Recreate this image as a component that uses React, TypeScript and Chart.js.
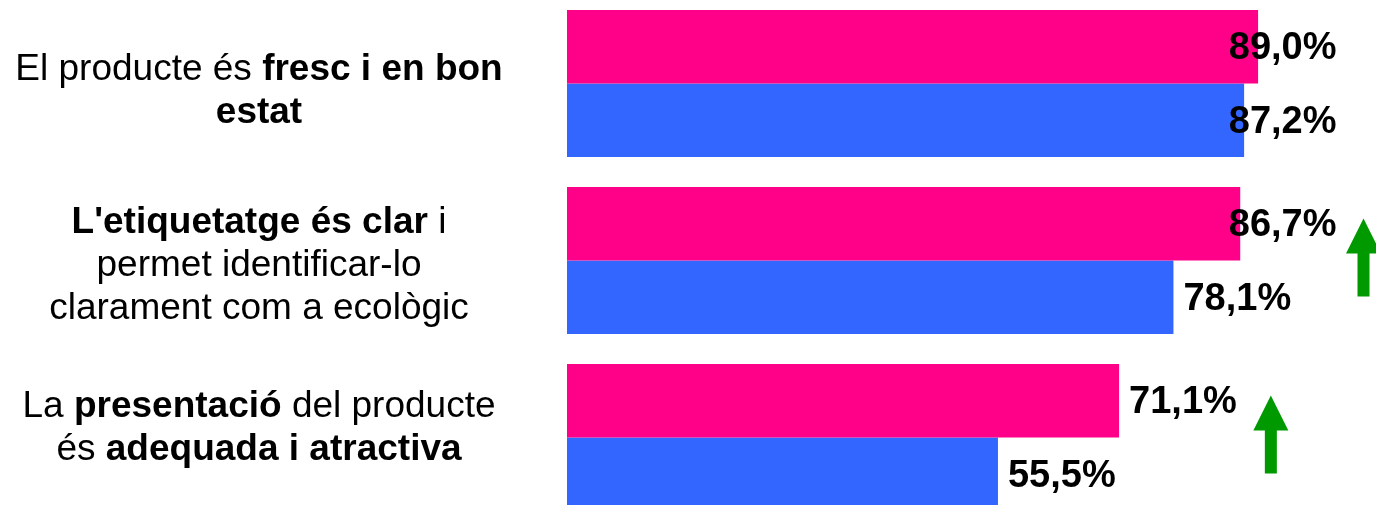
import React, { useEffect, useRef } from "react";
import { Chart, registerables } from "chart.js";

Chart.register(...registerables);

// ---- Data ----
const categories = ["fresc", "etiquetatge", "presentacio"];
// Rich label text: each line is a list of [text, bold]
const categoryLabelLines: [string, boolean][][][] = [
  [
    [["El producte és ", false], ["fresc i en bon", true]],
    [["estat", true]],
  ],
  [
    [["L'etiquetatge és clar", true], [" i", false]],
    [["permet identificar-lo", false]],
    [["clarament com a ecològic", false]],
  ],
  [
    [["La ", false], ["presentació", true], [" del producte", false]],
    [["és ", false], ["adequada i atractiva", true]],
  ],
];
const seriesCurrent = [89.0, 86.7, 71.1];
const seriesPrevious = [87.2, 78.1, 55.5];
const significantIncrease = [false, true, true];

const PINK = "#FF0088";
const BLUE = "#3366FF";
const GREEN = "#009900";
const FONT = "'Liberation Sans', Arial, sans-serif";

const fmt = (v: number) => v.toFixed(1).replace(".", ",") + "%";

const overlayPlugin = {
  id: "overlay",
  afterDatasetsDraw(chart: any, _args: any, opts: any) {
    const ctx = chart.ctx as CanvasRenderingContext2D;
    const yScale = chart.scales.y;
    const area = chart.chartArea;
    ctx.save();

    // Category labels (rich text, centered)
    const labelCenterX = opts.labelCenterX;
    const lineH = opts.lineHeight;
    categoryLabelLines.forEach((lines, i) => {
      const cy = yScale.getPixelForValue(i) + (opts.labelShift[i] || 0);
      const top = cy - ((lines.length - 1) * lineH) / 2;
      lines.forEach((segs, li) => {
        let total = 0;
        const widths = segs.map(([t, b]) => {
          ctx.font = `${b ? "bold " : ""}${opts.labelSize}px ${FONT}`;
          const w = ctx.measureText(t).width;
          total += w;
          return w;
        });
        let x = labelCenterX - total / 2;
        const y = top + li * lineH;
        ctx.textBaseline = "middle";
        ctx.textAlign = "left";
        ctx.fillStyle = "#000";
        segs.forEach(([t, b], si) => {
          ctx.font = `${b ? "bold " : ""}${opts.labelSize}px ${FONT}`;
          ctx.fillText(t, x, y);
          x += widths[si];
        });
      });
    });

    // Value labels
    ctx.font = `bold ${opts.valueSize}px ${FONT}`;
    ctx.textBaseline = "middle";
    ctx.textAlign = "left";
    ctx.fillStyle = "#000";
    const labelRights: number[][] = [];
    chart.data.datasets.forEach((ds: any, di: number) => {
      const meta = chart.getDatasetMeta(di);
      meta.data.forEach((bar: any, i: number) => {
        const text = fmt(ds.data[i]);
        const w = ctx.measureText(text).width;
        const x = Math.min(bar.x + 10, area.right - 7 - w);
        ctx.fillText(text, x, bar.y + 2);
        labelRights[di] = labelRights[di] || [];
        labelRights[di][i] = x + w;
      });
    });

    // Significance arrows
    ctx.fillStyle = GREEN;
    significantIncrease.forEach((sig, i) => {
      if (!sig) return;
      const cx = labelRights[0][i] + (opts.arrowGap[i] || 30);
      const cy = yScale.getPixelForValue(i);
      const tip = cy - 42;
      const bottom = cy + 36;
      const headBase = tip + 35;
      ctx.beginPath();
      ctx.moveTo(cx, tip);
      ctx.lineTo(cx + 17.5, headBase);
      ctx.lineTo(cx + 6, headBase);
      ctx.lineTo(cx + 6, bottom);
      ctx.lineTo(cx - 6, bottom);
      ctx.lineTo(cx - 6, headBase);
      ctx.lineTo(cx - 17.5, headBase);
      ctx.closePath();
      ctx.fill();
    });

    ctx.restore();
  },
};

export default function App() {
  const ref = useRef<HTMLCanvasElement | null>(null);
  useEffect(() => {
    if (!ref.current) return;
    const chart = new Chart(ref.current, {
      type: "bar",
      data: {
        labels: categories,
        datasets: [
          {
            label: "Actual",
            data: seriesCurrent,
            backgroundColor: PINK,
            borderWidth: 0,
            categoryPercentage: 0.83,
            barPercentage: 1,
          },
          {
            label: "Anterior",
            data: seriesPrevious,
            backgroundColor: BLUE,
            borderWidth: 0,
            categoryPercentage: 0.83,
            barPercentage: 1,
          },
        ],
      },
      options: {
        indexAxis: "y",
        animation: false,
        responsive: true,
        maintainAspectRatio: false,
        layout: { padding: { left: 567, right: 32.5, top: 0, bottom: 0 } },
        scales: {
          x: { display: false, min: 0, max: 100 },
          y: { display: false },
        },
        plugins: {
          legend: { display: false },
          tooltip: { enabled: false },
          overlay: {
            labelCenterX: 259,
            lineHeight: 43,
            labelSize: 37,
            valueSize: 38,
            labelShift: [8, 5, -9],
            arrowGap: [30, 27, 34],
          },
        } as any,
      },
      plugins: [overlayPlugin],
    });
    return () => chart.destroy();
  }, []);

  return (
    <div
      style={{
        position: "fixed",
        left: 0,
        top: -5,
        width: 1376,
        height: 531,
        background: "#fff",
      }}
    >
      <canvas ref={ref} />
    </div>
  );
}
